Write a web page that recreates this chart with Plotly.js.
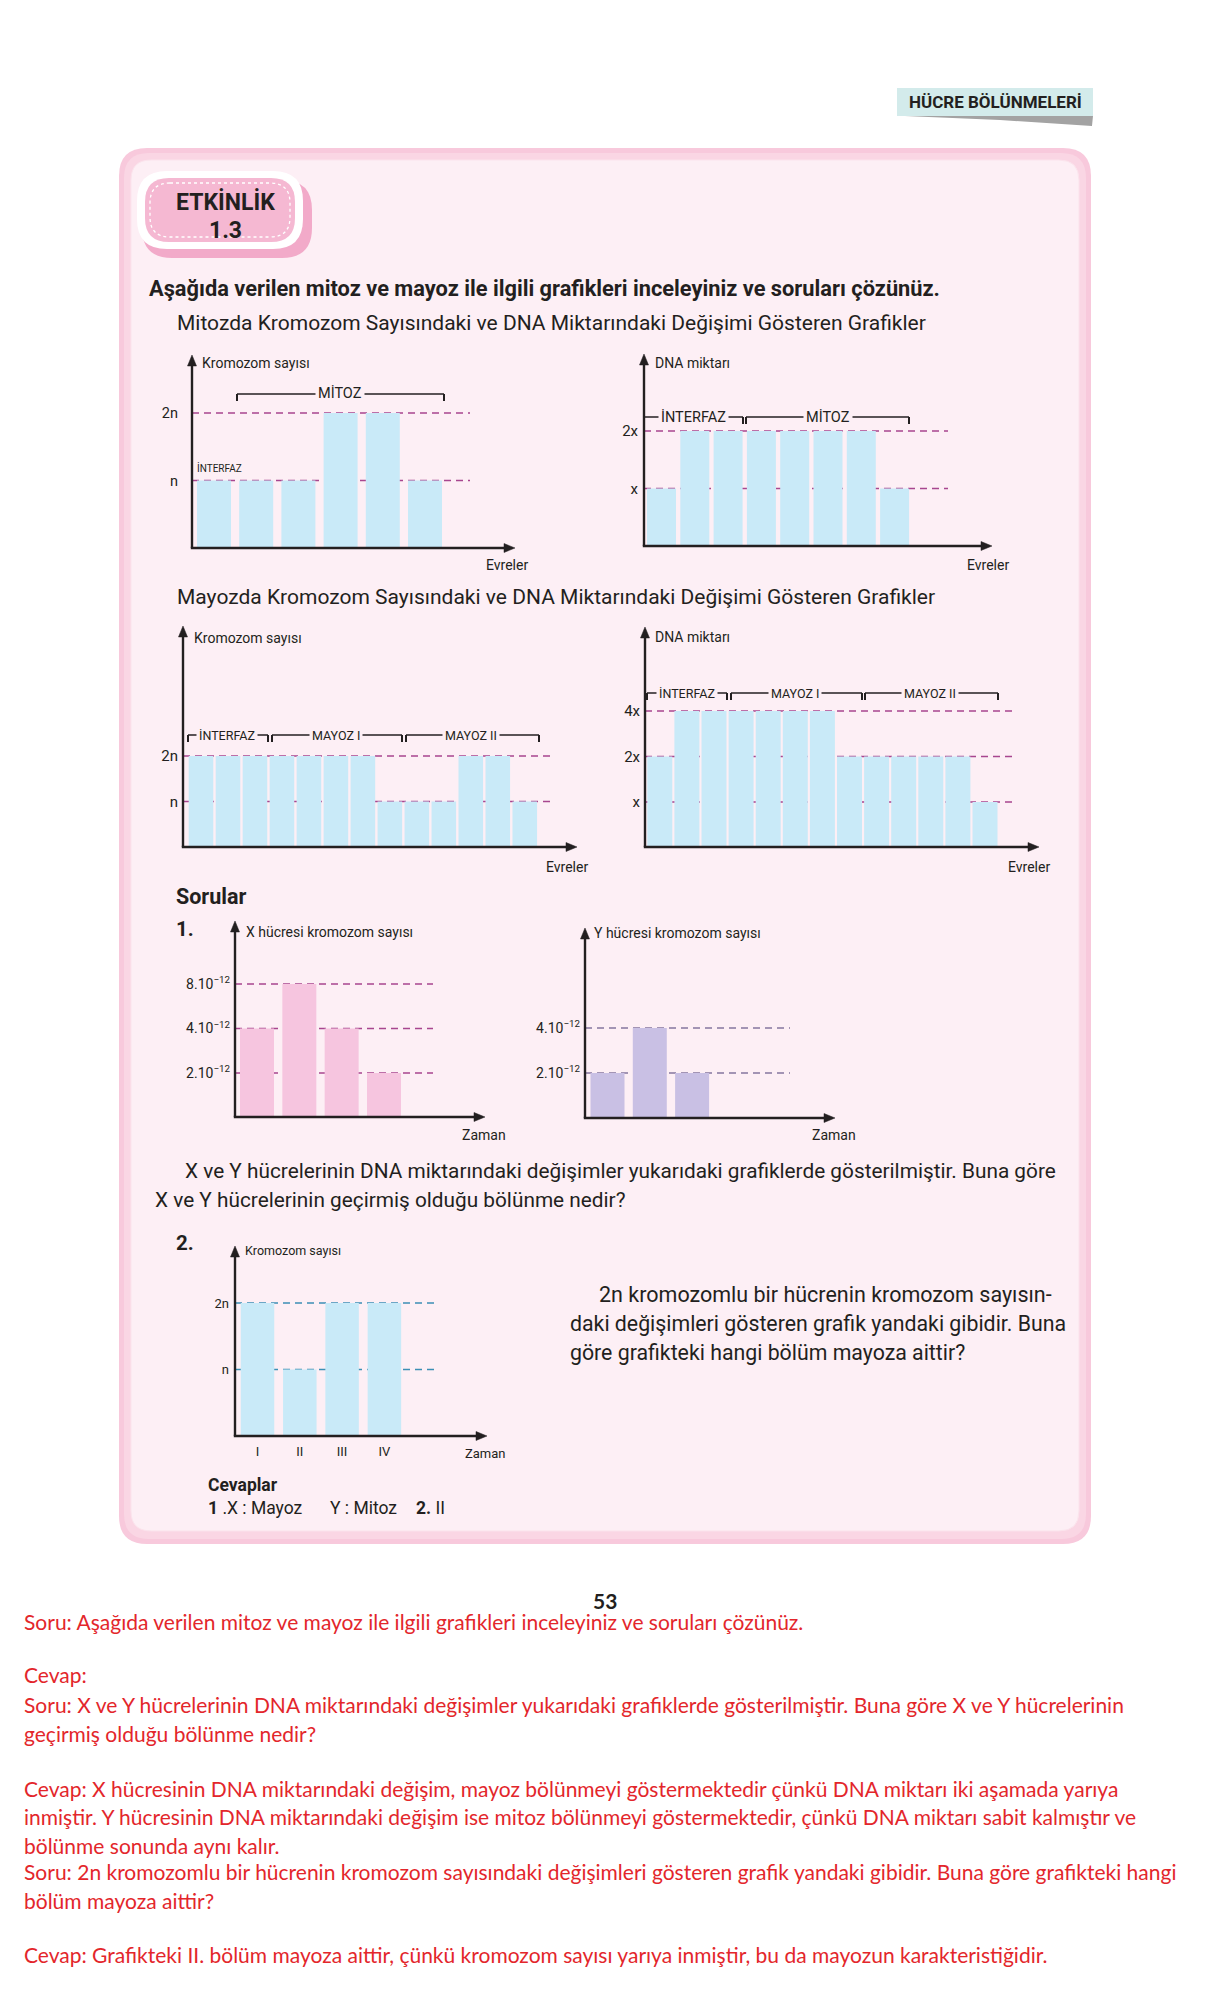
<!DOCTYPE html>
<html><head><meta charset="utf-8">
<script src="https://cdn.plot.ly/plotly-3.0.1.min.js"></script>
<style>html,body{margin:0;padding:0;background:#fff}#chart{width:1208px;height:2004px}</style>
</head><body><div id="chart"></div>
<script>
// ---------------- DATA ----------------
const mitozKromozom = [1, 1, 1, 2, 2, 1];                        // n birimi
const mitozDNA = [1, 2, 2, 2, 2, 2, 2, 1];                       // x birimi
const mayozKromozom = [2, 2, 2, 2, 2, 2, 2, 1, 1, 1, 2, 2, 1];   // n birimi
const mayozDNA = [2, 4, 4, 4, 4, 4, 4, 2, 2, 2, 2, 2, 1];        // x birimi
const xHucresi = [4, 8, 4, 2];                                   // x 10^-12
const yHucresi = [2, 4, 2];                                      // x 10^-12
const soru2Kategoriler = ['I', 'II', 'III', 'IV'];
const soru2Kromozom = [2, 1, 2, 2];                              // n birimi
const nTickVals = [1, 2], nTickText = ['n', '2n'];
const xTickVals = [1, 2], xTickText = ['x', '2x'];
const dnaTickVals = [1, 2, 4], dnaTickText = ['x', '2x', '4x'];
const xHucreTickVals = [2, 4, 8];
const yHucreTickVals = [2, 4];
const sup = v => v + '.10<sup>−12</sup>';

// ---------------- LAYOUT HELPERS ----------------
const W = 1208, H = 2004;
const px = x => x / W, py = y => 1 - y / H;
const FONT = 'Roboto, "Liberation Sans", Arial, sans-serif';
const RFONT = 'Lato, "Open Sans", sans-serif';
const INK = '#231f20';
const BLUE = '#c9eaf8', PINK = '#f6c5df', LAV = '#c9c0e4';
const MAG = '#a8468f', YDASH = '#85779f', TEAL = '#3c8fb5';
const BOXFILL = '#fdeff5';

function rr(x0, y0, x1, y1, r) {
  const P = (x, y) => px(x).toFixed(5) + ',' + py(y).toFixed(5);
  return 'M' + P(x0 + r, y0) + ' L' + P(x1 - r, y0) + ' Q' + P(x1, y0) + ' ' + P(x1, y0 + r) +
    ' L' + P(x1, y1 - r) + ' Q' + P(x1, y1) + ' ' + P(x1 - r, y1) +
    ' L' + P(x0 + r, y1) + ' Q' + P(x0, y1) + ' ' + P(x0, y1 - r) +
    ' L' + P(x0, y0 + r) + ' Q' + P(x0, y0) + ' ' + P(x0 + r, y0) + ' Z';
}
function poly(pts) {
  return 'M' + pts.map(p => px(p[0]).toFixed(5) + ',' + py(p[1]).toFixed(5)).join(' L') + ' Z';
}

const shapes = [];
const annotations = [];
function T(text, x, y, size, o) {
  o = o || {};
  annotations.push({
    text: text, x: px(x), y: py(y), xref: 'paper', yref: 'paper', showarrow: false,
    xanchor: o.anchor || 'left', yanchor: 'middle',
    font: {family: o.family || FONT, size: size, color: o.color || INK, weight: o.bold ? 'bold' : 'normal'},
    bgcolor: o.bg || 'rgba(0,0,0,0)', borderpad: o.pad === undefined ? 1 : o.pad
  });
}
function line(x0, y0, x1, y1, w) {
  shapes.push({type: 'line', xref: 'paper', yref: 'paper', x0: px(x0), y0: py(y0), x1: px(x1), y1: py(y1),
    layer: 'above', line: {color: INK, width: w || 1.4}});
}
function tri(pts) {
  shapes.push({type: 'path', xref: 'paper', yref: 'paper', layer: 'above', path: poly(pts),
    fillcolor: INK, line: {color: INK, width: 0.5}});
}
function axisArrows(x0, yb, yt, xe) {
  line(x0, yb, x0, yt + 6, 2.4);
  tri([[x0 - 4.5, yt + 11], [x0, yt], [x0 + 4.5, yt + 11]]);
  line(x0 - 1.2, yb, xe - 6, yb, 2.4);
  tri([[xe - 11, yb - 4.5], [xe, yb], [xe - 11, yb + 4.5]]);
}
function bracket(x0, x1, y, drop, label, cx, size, leftTick) {
  line(x0, y, x1, y);
  if (leftTick !== false) line(x0, y, x0, y + drop, 2);
  line(x1, y, x1, y + drop, 2);
  T(label, cx, y, size, {anchor: 'center', bg: BOXFILL, pad: 2});
}

// ---------------- PAGE BACKGROUND ----------------
shapes.push({type: 'path', xref: 'paper', yref: 'paper', layer: 'below', path: rr(119, 148, 1091, 1544, 28),
  fillcolor: '#f8c9dc', line: {width: 0}});
shapes.push({type: 'path', xref: 'paper', yref: 'paper', layer: 'below', path: rr(124, 153, 1086, 1539, 25),
  fillcolor: '#fad6e4', line: {width: 0}});
shapes.push({type: 'path', xref: 'paper', yref: 'paper', layer: 'below', path: rr(131, 160, 1079, 1531, 20),
  fillcolor: BOXFILL, line: {color: '#fbe3ec', width: 1}});
// header
shapes.push({type: 'path', xref: 'paper', yref: 'paper', layer: 'below',
  path: poly([[905, 116], [1093, 116], [1092, 126], [1000, 120]]), fillcolor: '#a3a3a3', line: {width: 0}});
shapes.push({type: 'rect', xref: 'paper', yref: 'paper', layer: 'below', x0: px(897), x1: px(1093), y0: py(88), y1: py(116),
  fillcolor: '#d3ebeb', line: {width: 0}});
// badge
shapes.push({type: 'path', xref: 'paper', yref: 'paper', layer: 'below', path: rr(142, 180, 312, 258, 30),
  fillcolor: '#f2aac9', line: {width: 0}});
shapes.push({type: 'path', xref: 'paper', yref: 'paper', layer: 'below', path: rr(137, 171, 303, 249, 30),
  fillcolor: '#ffffff', line: {width: 0}});
shapes.push({type: 'path', xref: 'paper', yref: 'paper', layer: 'below', path: rr(145, 178, 295, 242, 24),
  fillcolor: '#f5b8d2', line: {width: 0}});
shapes.push({type: 'path', xref: 'paper', yref: 'paper', layer: 'below', path: rr(150, 183, 290, 237, 20),
  fillcolor: 'rgba(0,0,0,0)', line: {color: '#ffffff', width: 1.3, dash: 'dot'}});

// ---------------- CHARTS ----------------
const charts = [
  {vals: mitozKromozom, d0: 192, d1: 513, yb: 548, yt: 357, c1: 214, pitch: 42.2, bw: 34, scale: 'linear',
    ref: [[2, 413]], tv: nTickVals, tt: nTickText, color: BLUE, dashEnd: 470, dash: MAG, stand: 13, tsize: 14.5},
  {vals: mitozDNA, d0: 644, d1: 990, yb: 546, yt: 356, c1: 661.5, pitch: 33.3, bw: 29, scale: 'linear',
    ref: [[2, 431]], tv: xTickVals, tt: xTickText, color: BLUE, dashEnd: 948, dash: MAG, stand: 5, tsize: 15},
  {vals: mayozKromozom, d0: 183, d1: 575, yb: 847, yt: 628, c1: 201, pitch: 26.98, bw: 24.6, scale: 'linear',
    ref: [[2, 756]], tv: nTickVals, tt: nTickText, color: BLUE, dashEnd: 555, dash: MAG, stand: 4, tsize: 15},
  {vals: mayozDNA, d0: 645, d1: 1037, yb: 847, yt: 629, c1: 659.8, pitch: 27.1, bw: 25, scale: 'log',
    ref: [[1, 802], [4, 711]], tv: dnaTickVals, tt: dnaTickText, color: BLUE, dashEnd: 1017, dash: MAG, stand: 4, tsize: 15},
  {vals: xHucresi, d0: 235, d1: 483, yb: 1117, yt: 923, c1: 257, pitch: 42.33, bw: 34, scale: 'log',
    ref: [[2, 1073], [8, 984]], tv: xHucreTickVals, tt: xHucreTickVals.map(sup), color: PINK, dashEnd: 433, dash: MAG, stand: 4, tsize: 14},
  {vals: yHucresi, d0: 585, d1: 833, yb: 1118, yt: 930, c1: 607.5, pitch: 42.3, bw: 34, scale: 'log',
    ref: [[2, 1073], [4, 1028]], tv: yHucreTickVals, tt: yHucreTickVals.map(sup), color: LAV, dashEnd: 790, dash: YDASH, stand: 4, tsize: 14},
  {vals: soru2Kromozom, cats: soru2Kategoriler, d0: 235, d1: 485, yb: 1436, yt: 1248, c1: 257.5, pitch: 42.3, bw: 33.5, scale: 'linear',
    ref: [[2, 1303]], tv: nTickVals, tt: nTickText, color: BLUE, dashEnd: 434, dash: TEAL, stand: 5, tsize: 13}
];

const data = [];
const layout = {
  width: W, height: H, margin: {l: 0, r: 0, t: 0, b: 0, pad: 0},
  paper_bgcolor: '#ffffff', plot_bgcolor: 'rgba(0,0,0,0)', showlegend: false,
  font: {family: FONT, color: INK}, shapes: shapes, annotations: annotations
};

charts.forEach((c, k) => {
  const id = k + 2;
  const xs = c.cats ? c.cats : c.vals.map((_, i) => i);
  data.push({type: 'bar', x: xs, y: c.vals, xaxis: 'x' + id, yaxis: 'y' + id,
    width: c.bw / c.pitch, marker: {color: c.color, line: {width: 0}}, hoverinfo: 'skip'});
  const r0 = -(c.c1 - c.d0) / c.pitch;
  const xa = {domain: [px(c.d0), px(c.d1)], anchor: 'y' + id, range: [r0, r0 + (c.d1 - c.d0) / c.pitch],
    showgrid: false, zeroline: false, showline: false, ticks: '', fixedrange: true,
    showticklabels: !!c.cats};
  if (c.cats) {
    xa.type = 'category';
    xa.tickfont = {family: FONT, size: 13, color: INK};
    xa.ticklabelstandoff = 6;
  }
  let yr;
  if (c.scale === 'linear') {
    const unit = (c.yb - c.ref[0][1]) / c.ref[0][0];
    yr = [0, (c.yb - c.yt) / unit];
  } else {
    const a = c.ref[0], b = c.ref[1];
    const per = (a[1] - b[1]) / (Math.log10(b[0]) - Math.log10(a[0]));
    const lo = Math.log10(a[0]) - (c.yb - a[1]) / per;
    yr = [lo, lo + (c.yb - c.yt) / per];
  }
  const ya = {domain: [py(c.yb), py(c.yt)], anchor: 'x' + id, type: c.scale, range: yr,
    showgrid: false, zeroline: false, showline: false, ticks: '', fixedrange: true,
    tickmode: 'array', tickvals: c.tv, ticktext: c.tt, ticklabelstandoff: c.stand,
    tickfont: {family: FONT, size: c.tsize, color: INK}};
  layout['xaxis' + id] = xa;
  layout['yaxis' + id] = ya;
  // dashed reference lines at tick levels, through the chart's own y scale
  c.tv.forEach(v => {
    shapes.push({type: 'line', xref: 'paper', yref: 'y' + id, x0: px(c.d0), x1: px(c.dashEnd), y0: v, y1: v,
      layer: 'below', line: {color: c.dash, width: 1.3, dash: '7px,5px'}});
  });
  axisArrows(c.d0, c.yb, c.yt - 2, c.d1 + 2);
});

// ---------------- CHART LABELS ----------------
T('Kromozom sayısı', 200, 363, 14);
T('Evreler', 507, 565, 14, {anchor: 'center'});
T('İNTERFAZ', 195, 468, 10);
bracket(237, 444, 394, 7, 'MİTOZ', 340, 14.5);

T('DNA miktarı', 653, 363, 14);
T('Evreler', 988, 565, 14, {anchor: 'center'});
bracket(644, 743, 417, 7, 'İNTERFAZ', 693, 14.5, false);
bracket(746, 909, 417, 7, 'MİTOZ', 828, 14.5);

T('Kromozom sayısı', 192, 638, 14);
T('Evreler', 567, 867, 14, {anchor: 'center'});
bracket(188, 268, 735, 7, 'İNTERFAZ', 227, 12.5);
bracket(272, 402, 735, 7, 'MAYOZ I', 336, 12.5);
bracket(406, 539, 735, 7, 'MAYOZ II', 471, 12.5);

T('DNA miktarı', 653, 637, 14);
T('Evreler', 1029, 867, 14, {anchor: 'center'});
bracket(647, 727, 693, 7, 'İNTERFAZ', 687, 12.5);
bracket(731, 862, 693, 7, 'MAYOZ I', 795, 12.5);
bracket(865, 998, 693, 7, 'MAYOZ II', 930, 12.5);

T('X hücresi kromozom sayısı', 244, 932, 14);
T('Zaman', 484, 1135, 14, {anchor: 'center'});
T('Y hücresi kromozom sayısı', 592, 933, 14);
T('Zaman', 834, 1135, 14, {anchor: 'center'});

T('Kromozom sayısı', 243, 1250, 12.5);
T('Zaman', 485, 1453, 13, {anchor: 'center'});

// ---------------- PAGE TEXT ----------------
T('HÜCRE BÖLÜNMELERİ', 995, 102, 17, {anchor: 'center', bold: true});
T('ETKİNLİK', 225, 202, 23, {anchor: 'center', bold: true});
T('1.3', 225, 231, 23, {anchor: 'center', bold: true});
T('Aşağıda verilen mitoz ve mayoz ile ilgili grafikleri inceleyiniz ve soruları çözünüz.', 147, 288, 21.8, {bold: true});
T('Mitozda Kromozom Sayısındaki ve DNA Miktarındaki Değişimi Gösteren Grafikler', 175, 323, 21);
T('Mayozda Kromozom Sayısındaki ve DNA Miktarındaki Değişimi Gösteren Grafikler', 175, 597, 21);
T('Sorular', 174, 896, 21.5, {bold: true});
T('1.', 174, 929, 20.5, {bold: true});
T('X ve Y hücrelerinin DNA miktarındaki değişimler yukarıdaki grafiklerde gösterilmiştir. Buna göre', 183, 1171, 20.8);
T('X ve Y hücrelerinin geçirmiş olduğu bölünme nedir?', 153, 1200, 20.8);
T('2.', 174, 1243, 20.5, {bold: true});
T('2n kromozomlu bir hücrenin kromozom sayısın-', 597, 1294, 21.5);
T('daki değişimleri gösteren grafik yandaki gibidir. Buna', 568, 1323, 21.3);
T('göre grafikteki hangi bölüm mayoza aittir?', 568, 1352, 21.3);
T('Cevaplar', 206, 1485, 17.5, {bold: true});
T('<b>1</b> .X : Mayoz', 206, 1508, 17.5);
T('Y : Mitoz', 328, 1508, 17.5);
T('<b>2.</b> II', 414, 1508, 17.5);

T('53', 605, 1600, 21, {anchor: 'center', bold: true, family: RFONT});
const RED = '#e3262b';
const redLines = [
  ['Soru: Aşağıda verilen mitoz ve mayoz ile ilgili grafikleri inceleyiniz ve soruları çözünüz.', 1621],
  ['Cevap:', 1674],
  ['Soru: X ve Y hücrelerinin DNA miktarındaki değişimler yukarıdaki grafiklerde gösterilmiştir. Buna göre X ve Y hücrelerinin', 1704],
  ['geçirmiş olduğu bölünme nedir?', 1733],
  ['Cevap: X hücresinin DNA miktarındaki değişim, mayoz bölünmeyi göstermektedir çünkü DNA miktarı iki aşamada yarıya', 1788],
  ['inmiştir. Y hücresinin DNA miktarındaki değişim ise mitoz bölünmeyi göstermektedir, çünkü DNA miktarı sabit kalmıştır ve', 1816],
  ['bölünme sonunda aynı kalır.', 1845],
  ['Soru: 2n kromozomlu bir hücrenin kromozom sayısındaki değişimleri gösteren grafik yandaki gibidir. Buna göre grafikteki hangi', 1871],
  ['bölüm mayoza aittir?', 1900],
  ['Cevap: Grafikteki II. bölüm mayoza aittir, çünkü kromozom sayısı yarıya inmiştir, bu da mayozun karakteristiğidir.', 1954]
];
redLines.forEach(l => T(l[0], 22, l[1], 21, {family: RFONT, color: RED}));

Plotly.newPlot('chart', data, layout, {staticPlot: true, displayModeBar: false});
</script>
</body></html>
